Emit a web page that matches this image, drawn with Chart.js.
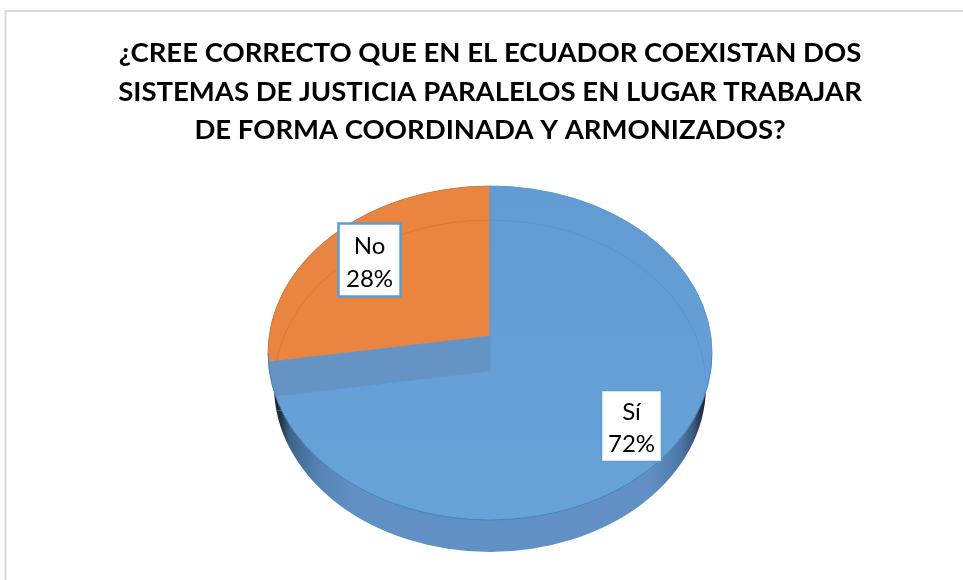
<!DOCTYPE html>
<html>
<head>
<meta charset="utf-8">
<title>Chart</title>
<script src="https://cdn.jsdelivr.net/npm/chart.js@4"></script>
<style>
  html, body { margin: 0; padding: 0; background: #fff; }
  canvas { display: block; }
</style>
</head>
<body>
<canvas id="pieChart" width="963" height="580"></canvas>
<script>
const categories = ["Sí", "No"];
const seriesValues = [72, 28];
const titleLines = [
  "¿CREE CORRECTO QUE EN EL ECUADOR COEXISTAN DOS",
  "SISTEMAS DE JUSTICIA PARALELOS EN LUGAR TRABAJAR",
  "DE FORMA COORDINADA Y ARMONIZADOS?"
];

// geometry of the tilted pie, in page pixels
const apex = { x: 490, y: 336 };
const topFace = { x: 490, y: 353, rx: 222, ry: 167 };
const bottomFace = { x: 490, y: 386, rx: 216, ry: 166 };
const wallDrop = 35;
const sideDrop = 50;
const spreadX = 320, spreadY = 197; // the wedges are cut by the ellipse clip

// label boxes, base1/base2 are the two text baselines
const labelBoxes = [
  { x: 601.5, y: 390.5, w: 60, h: 71, border: 1.5, base1: 29, base2: 61.5 },
  { x: 338.5, y: 223.5, w: 62, h: 73, border: 2.5, base1: 30, base2: 63 }
];

function ellipsePath(ctx, e) {
  ctx.beginPath();
  ctx.ellipse(e.x, e.y, e.rx, e.ry, 0, 0, Math.PI * 2);
}

// draws an arc element through the tilt transform with other paint
function drawWedge(ctx, arc, dy, fill, border, borderWidth) {
  const saved = arc.options;
  arc.options = { ...saved, backgroundColor: fill, borderColor: border || fill, borderWidth: borderWidth || 0 };
  ctx.save();
  ctx.translate(apex.x, apex.y + dy);
  ctx.scale(spreadX / arc.outerRadius, spreadY / arc.outerRadius);
  ctx.translate(-arc.x, -arc.y);
  arc.draw(ctx);
  ctx.restore();
  arc.options = saved;
}

const framePlugin = {
  id: "frame",
  beforeDraw(chart) {
    const ctx = chart.ctx;
    ctx.save();
    ctx.strokeStyle = "#d9d9d9";
    ctx.lineWidth = 2;
    ctx.beginPath();
    ctx.moveTo(5.5, 580);
    ctx.lineTo(5.5, 11);
    ctx.lineTo(963, 11);
    ctx.stroke();
    ctx.restore();
  }
};

const tiltedPie = {
  id: "tiltedPie",
  beforeDatasetsDraw(chart) {
    const ctx = chart.ctx;
    const arcs = chart.getDatasetMeta(0).data;
    const si = arcs[0], no = arcs[1];

    // gradients are filled under the tilt transform, so they need arc coordinates
    const arcX = px => si.x + (px - apex.x) * si.outerRadius / spreadX;
    const arcY = (py, dy) => si.y + (py - apex.y - dy) * si.outerRadius / spreadY;

    // side of the pie
    const side = ctx.createLinearGradient(arcX(bottomFace.x - bottomFace.rx), 0, arcX(bottomFace.x + bottomFace.rx), 0);
    side.addColorStop(0, "#1a2530");
    side.addColorStop(0.012, "#1f2c3a");
    side.addColorStop(0.037, "#3f648a");
    side.addColorStop(0.106, "#5584b5");
    side.addColorStop(0.18, "#6090c4");
    side.addColorStop(0.87, "#6090c4");
    side.addColorStop(0.94, "#4d79a6");
    side.addColorStop(0.97, "#3b5c7e");
    side.addColorStop(0.99, "#243242");
    side.addColorStop(1, "#1a2530");
    ctx.save();
    ellipsePath(ctx, bottomFace);
    ctx.clip();
    arcs.forEach(a => drawWedge(ctx, a, sideDrop, side));
    ctx.restore();

    // top face
    ctx.save();
    ellipsePath(ctx, topFace);
    ctx.clip();
    const blue = ctx.createLinearGradient(0, arcY(topFace.y - topFace.ry, 0), 0, arcY(topFace.y + topFace.ry, 0));
    blue.addColorStop(0, "#629bd2");
    blue.addColorStop(1, "#68a3d8");
    drawWedge(ctx, si, 0, blue);
    drawWedge(ctx, no, 0, blue);
    drawWedge(ctx, no, wallDrop, "#6593c3", "#5f97d0", 0.8);
    drawWedge(ctx, no, 0, "#e98441", "#5b9bd5", 0.8);

    // back rim of the lower ellipse shows through the face
    ctx.lineWidth = 1;
    ctx.strokeStyle = "rgba(200,90,30,0.3)";
    ctx.beginPath();
    ctx.ellipse(bottomFace.x, bottomFace.y, bottomFace.rx, bottomFace.ry, 0, Math.PI * 1.04, Math.PI * 1.5);
    ctx.stroke();
    ctx.strokeStyle = "rgba(75,130,190,0.3)";
    ctx.beginPath();
    ctx.ellipse(bottomFace.x, bottomFace.y, bottomFace.rx, bottomFace.ry, 0, Math.PI * 1.5, Math.PI * 2);
    ctx.stroke();
    ctx.restore();

    // outline of the face
    ctx.save();
    ctx.lineWidth = 1;
    ctx.strokeStyle = "#4484c6";
    ctx.beginPath();
    ctx.ellipse(topFace.x, topFace.y, topFace.rx, topFace.ry, 0, 0, Math.PI);
    ctx.stroke();
    ctx.strokeStyle = "rgba(207,116,52,0.7)";
    ctx.beginPath();
    ctx.ellipse(topFace.x, topFace.y, topFace.rx, topFace.ry, 0, Math.PI, Math.PI * 1.5);
    ctx.stroke();
    ctx.strokeStyle = "#5b96d0";
    ctx.beginPath();
    ctx.ellipse(topFace.x, topFace.y, topFace.rx, topFace.ry, 0, Math.PI * 1.5, Math.PI * 2);
    ctx.stroke();
    ctx.restore();

    return false;
  },
  afterDraw(chart) {
    const ctx = chart.ctx;
    const total = seriesValues.reduce((a, b) => a + b, 0);
    ctx.save();
    categories.forEach((cat, i) => {
      const b = labelBoxes[i];
      ctx.fillStyle = "#fff";
      ctx.strokeStyle = "#5b9bd5";
      ctx.lineWidth = b.border;
      ctx.fillRect(b.x, b.y, b.w, b.h);
      ctx.strokeRect(b.x, b.y, b.w, b.h);
      ctx.fillStyle = "#000";
      ctx.font = "24px Lato";
      ctx.textAlign = "center";
      ctx.textBaseline = "alphabetic";
      const cx = b.x + b.w / 2;
      ctx.fillText(cat, cx, b.y + b.base1);
      ctx.fillText(Math.round(seriesValues[i] / total * 100) + "%", cx, b.y + b.base2);
    });
    ctx.restore();
  }
};

new Chart(document.getElementById("pieChart"), {
  type: "pie",
  data: {
    labels: categories,
    datasets: [{ data: seriesValues, borderWidth: 0, backgroundColor: ["#659fd6", "#e98441"] }]
  },
  options: {
    responsive: false,
    animation: false,
    layout: { padding: { top: 34, left: 17 } },
    plugins: {
      legend: { display: false },
      tooltip: { enabled: false },
      title: {
        display: true,
        text: titleLines,
        color: "#000",
        font: { family: "Lato", size: 27.5, weight: "bold", lineHeight: 1.4 },
        padding: 0
      }
    }
  },
  plugins: [framePlugin, tiltedPie]
});
</script>
</body>
</html>
